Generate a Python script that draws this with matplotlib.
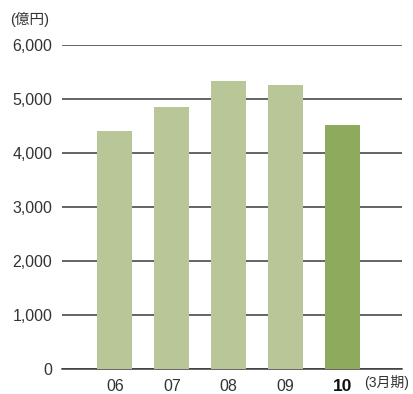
import matplotlib
matplotlib.use('Agg')
import matplotlib.pyplot as plt
import numpy as np

plt.rcParams['font.family'] = ['Liberation Sans', 'Noto Sans CJK JP']

years = ['06', '07', '08', '09', '10']
values = [4400, 4850, 5330, 5260, 4520]
colors = ['#b9c698', '#b9c698', '#b9c698', '#b9c698', '#8eaa5c']
yticks = [0, 1000, 2000, 3000, 4000, 5000, 6000]

fig = plt.figure(figsize=(4.13, 3.94), dpi=100)
ax = fig.add_axes([0.150, 0.0635, 0.823, 0.8225])

x = np.arange(len(years))
ax.bar(x, values, 0.614, color=colors, zorder=3)

ax.set_ylim(0, 6000)
ax.set_xlim(-0.93, 5.04)
ax.set_yticks(yticks)
ax.set_yticklabels(['{:,}'.format(v) for v in yticks], fontsize=11.5, color='#333333')
ax.yaxis.grid(True, color='#3a3a3a', linewidth=1.1, zorder=1)
ax.tick_params(axis='both', length=0, pad=7)
ax.set_xticks(x)
ax.set_xticklabels(years, fontsize=11.5, color='#333333')
ax.get_xticklabels()[-1].set_fontweight('bold')
ax.get_xticklabels()[-1].set_fontsize(12.5)
ax.get_xticklabels()[-1].set_color('#111111')

for s in ['top', 'right', 'left']:
    ax.spines[s].set_visible(False)
ax.spines['bottom'].set_color('#3a3a3a')
ax.spines['bottom'].set_linewidth(1.1)

fig.text(10 / 413, 1 - 19 / 394, '(億円)', fontsize=10.5, color='#333333', va='center', ha='left')
fig.text(364 / 413, 1 - 383 / 394, '(3月期)', fontsize=10, color='#333333', va='center', ha='left')

plt.savefig('out.png', dpi=100)
